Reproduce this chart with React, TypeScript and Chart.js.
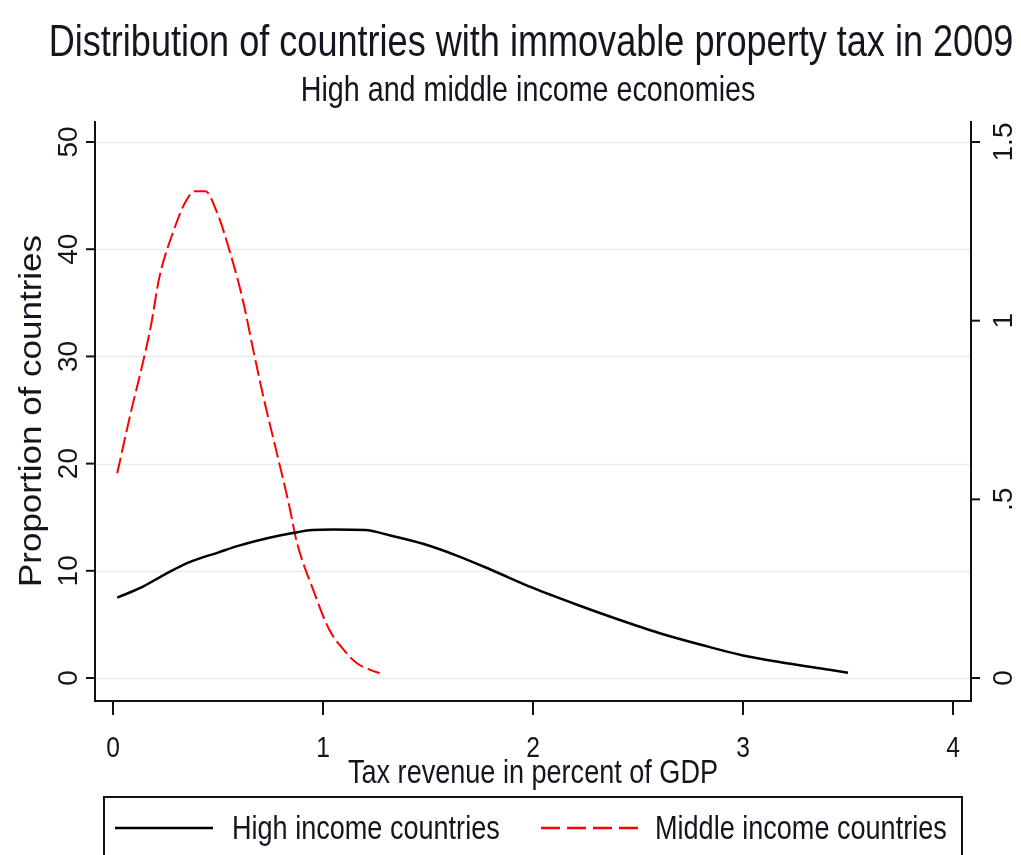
import React, { useEffect, useRef } from "react";
import { Chart, registerables } from "chart.js";

Chart.register(...registerables);

const titleText = "Distribution of countries with immovable property tax in 2009";
const subtitleText = "High and middle income economies";
const xAxisTitle = "Tax revenue in percent of GDP";
const yAxisTitle = "Proportion of countries";
const seriesNames = ["High income countries", "Middle income countries"];

const xHigh = [0.02, 0.13, 0.25, 0.37, 0.5, 0.6, 0.75, 0.85, 0.95, 1.05, 1.2, 1.32, 1.48, 1.64, 1.8, 2.0, 2.2, 2.4, 2.6, 2.8, 3.0, 3.2, 3.4, 3.5];
const yHigh = [7.5, 8.4, 9.7, 10.85, 11.7, 12.35, 13.1, 13.5, 13.8, 13.85, 13.8, 13.3, 12.5, 11.4, 10.1, 8.4, 6.9, 5.5, 4.2, 3.1, 2.1, 1.4, 0.8, 0.5];

const xMid = [0.02, 0.09, 0.13, 0.18, 0.22, 0.29, 0.35, 0.39, 0.44, 0.49, 0.565, 0.62, 0.67, 0.72, 0.78, 0.84, 0.875, 0.95, 1.03, 1.1, 1.16, 1.22, 1.27];
const yMid = [19.1, 25.2, 28.4, 32.8, 37.3, 41.8, 44.6, 45.4, 45.4, 43.7, 39.2, 35.1, 30.4, 25.9, 21.0, 16.0, 12.7, 8.4, 4.5, 2.6, 1.4, 0.8, 0.45];

const xTicks = [0, 1, 2, 3, 4];
const xTickLabels = ["0", "1", "2", "3", "4"];
const yTicks = [0, 10, 20, 30, 40, 50];
const yTickLabels = ["0", "10", "20", "30", "40", "50"];
const y2Ticks = [0, 0.5, 1, 1.5];
const y2TickLabels = ["0", ".5", "1", "1.5"];

const FONT = "'Liberation Sans', Arial, sans-serif";
const SX = 0.82;
const TEXT = "#15151f";

function hText(ctx: CanvasRenderingContext2D, text: string, x: number, y: number, size: number, align: CanvasTextAlign) {
  ctx.save();
  ctx.translate(x, y);
  ctx.scale(SX, 1);
  ctx.font = `${size}px ${FONT}`;
  ctx.textAlign = align;
  ctx.textBaseline = "alphabetic";
  ctx.fillStyle = TEXT;
  ctx.fillText(text, 0, 0);
  ctx.restore();
}

function vText(ctx: CanvasRenderingContext2D, text: string, x: number, y: number, size: number, sx: number) {
  ctx.save();
  ctx.translate(x, y);
  ctx.scale(sx, 1);
  ctx.rotate(-Math.PI / 2);
  ctx.font = `${size}px ${FONT}`;
  ctx.textAlign = "center";
  ctx.textBaseline = "alphabetic";
  ctx.fillStyle = TEXT;
  ctx.fillText(text, 0, 0);
  ctx.restore();
}

const stataPlugin = {
  id: "stataDecor",
  beforeDraw(chart: any) {
    const ctx = chart.ctx;
    ctx.save();
    ctx.fillStyle = "#ffffff";
    ctx.fillRect(0, 0, chart.width, chart.height);
    ctx.restore();
  },
  beforeDatasetsDraw(chart: any) {
    const ctx = chart.ctx;
    const { left, right } = chart.chartArea;
    const y = chart.scales.y;
    ctx.save();
    ctx.strokeStyle = "#e6eef0";
    ctx.lineWidth = 1.5;
    yTicks.forEach((v) => {
      const py = Math.round(y.getPixelForValue(v)) + 0.5;
      ctx.beginPath();
      ctx.moveTo(left, py);
      ctx.lineTo(right, py);
      ctx.stroke();
    });
    ctx.restore();
  },
  afterDatasetsDraw(chart: any) {
    const ctx = chart.ctx;
    const { left, right, top, bottom } = chart.chartArea;
    const x = chart.scales.x;
    const y = chart.scales.y;
    const y2 = chart.scales.y2;
    ctx.save();
    ctx.strokeStyle = "#111";
    ctx.lineWidth = 2;
    ctx.lineCap = "butt";
    ctx.beginPath();
    ctx.moveTo(left, top);
    ctx.lineTo(left, bottom);
    ctx.lineTo(right, bottom);
    ctx.lineTo(right, top);
    ctx.stroke();
    yTicks.forEach((v, i) => {
      const py = y.getPixelForValue(v);
      ctx.beginPath();
      ctx.moveTo(left - 9, py);
      ctx.lineTo(left, py);
      ctx.stroke();
      vText(ctx, yTickLabels[i], left - 18, py, 28, 1);
    });
    y2Ticks.forEach((v, i) => {
      const py = y2.getPixelForValue(v);
      ctx.beginPath();
      ctx.moveTo(right, py);
      ctx.lineTo(right + 9, py);
      ctx.stroke();
      vText(ctx, y2TickLabels[i], right + 41, py, 28, 1);
    });
    xTicks.forEach((v, i) => {
      const px = x.getPixelForValue(v);
      ctx.beginPath();
      ctx.moveTo(px, bottom);
      ctx.lineTo(px, bottom + 14);
      ctx.stroke();
      hText(ctx, xTickLabels[i], px, bottom + 56, 30, "center");
    });
    ctx.restore();

    const cx = (left + right) / 2;
    hText(ctx, titleText, 531, 56, 44, "center");
    hText(ctx, subtitleText, 528, 101, 35, "center");
    hText(ctx, xAxisTitle, cx, bottom + 82, 33, "center");
    vText(ctx, yAxisTitle, 41, (top + bottom) / 2, 35, 0.9);

    ctx.save();
    ctx.strokeStyle = "#111";
    ctx.lineWidth = 2;
    ctx.strokeRect(104, 797, 858, 80);
    const ly = 828;
    ctx.lineWidth = 2.5;
    ctx.strokeStyle = "#000";
    ctx.beginPath();
    ctx.moveTo(115, ly);
    ctx.lineTo(213, ly);
    ctx.stroke();
    ctx.strokeStyle = "#ff0000";
    ctx.lineWidth = 2.5;
    ctx.setLineDash([19, 7]);
    ctx.beginPath();
    ctx.moveTo(541, ly);
    ctx.lineTo(640, ly);
    ctx.stroke();
    ctx.setLineDash([]);
    ctx.restore();
    hText(ctx, seriesNames[0], 232, 839, 33, "left");
    hText(ctx, seriesNames[1], 655, 839, 33, "left");
  },
};

export default function App() {
  const ref = useRef<HTMLCanvasElement | null>(null);
  useEffect(() => {
    if (!ref.current) return;
    const yMin = -2.145;
    const yMax = 51.96;
    const chart = new Chart(ref.current, {
      type: "line",
      data: {
        datasets: [
          {
            label: seriesNames[0],
            data: xHigh.map((v, i) => ({ x: v, y: yHigh[i] })),
            borderColor: "#000000",
            borderWidth: 2.5,
            pointRadius: 0,
            cubicInterpolationMode: "monotone",
            fill: false,
            yAxisID: "y",
          },
          {
            label: seriesNames[1],
            data: xMid.map((v, i) => ({ x: v, y: yMid[i] })),
            borderColor: "#ff0000",
            borderWidth: 2,
            borderDash: [16, 5],
            pointRadius: 0,
            cubicInterpolationMode: "monotone",
            fill: false,
            yAxisID: "y",
          },
        ],
      },
      options: {
        animation: false,
        responsive: false,
        maintainAspectRatio: false,
        layout: { padding: { left: 95, top: 121, right: 50, bottom: 154 } },
        plugins: { legend: { display: false }, title: { display: false }, tooltip: { enabled: false } },
        scales: {
          x: { type: "linear", min: -0.0857, max: 4.0857, display: false },
          y: { type: "linear", min: yMin, max: yMax, display: false },
          y2: { type: "linear", position: "right", min: yMin / (100 / 3), max: yMax / (100 / 3), display: false },
        },
      },
      plugins: [stataPlugin],
    });
    return () => chart.destroy();
  }, []);
  return (
    <div style={{ position: "fixed", left: 0, top: 0, width: 1021, height: 855, background: "#fff" }}>
      <canvas ref={ref} width={1021} height={855} style={{ width: 1021, height: 855, display: "block" }} />
    </div>
  );
}
